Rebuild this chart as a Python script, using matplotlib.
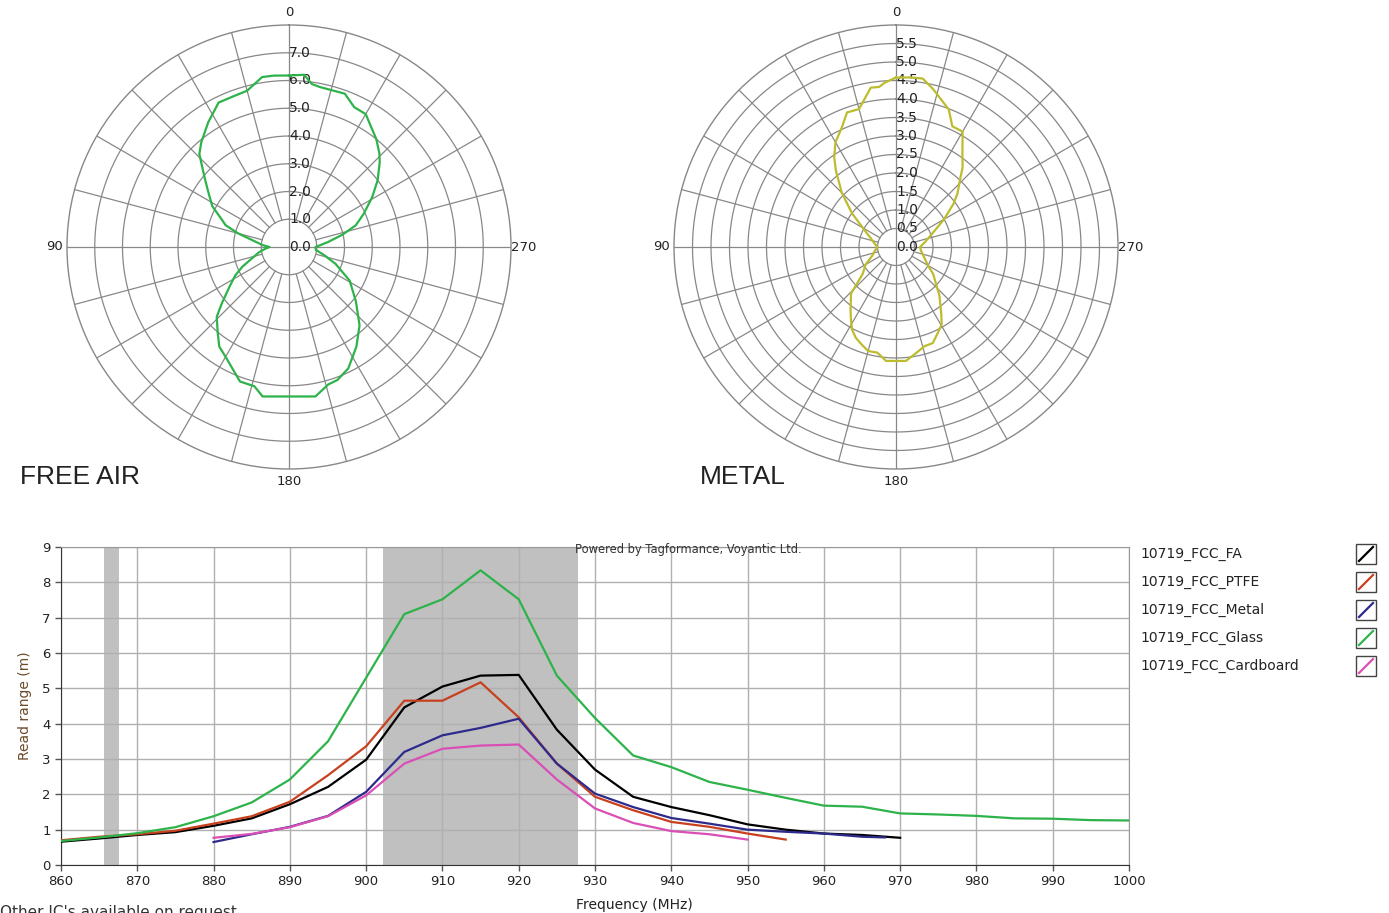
import numpy as np
import matplotlib.pyplot as plt
from matplotlib.patches import Rectangle
from matplotlib.lines import Line2D

# polar patterns (angle in degrees, read range in m)
fa_angle = [0, 5, 9, 15, 20, 26, 33, 40, 44, 51, 56, 62, 68, 71, 75, 81, 86, 90,
            94, 100, 113, 118, 124, 130, 134, 140, 145, 150, 160, 166, 170,
            190, 196, 200, 206, 214, 222, 231, 241, 250, 257, 264, 270,
            277, 283, 288, 294, 301, 307, 313, 316, 321, 330, 335, 340, 349, 352, 355]
fa_range = [6.18, 6.2, 6.2, 5.83, 5.79, 5.79, 5.35, 4.92, 4.65, 3.9, 3.5, 3.13, 2.6, 2.42, 1.9, 1.22, 0.95, 0.7,
            0.85, 1.1, 1.83, 2.2, 2.6, 3.16, 3.62, 4.0, 4.38, 4.57, 5.16, 5.17, 5.47,
            5.47, 5.15, 5.1, 4.87, 4.34, 3.8, 3.1, 2.5, 1.79, 1.3, 0.97, 0.96,
            1.4, 1.98, 2.53, 2.95, 3.5, 4.0, 4.47, 4.69, 5.0, 5.53, 5.56, 5.88, 5.87, 5.93, 6.23]

mt_angle = [0, 4, 6, 9, 15, 20, 24.5, 30, 34.5, 38.5, 45, 52.5, 61, 72, 80, 90,
            100, 110, 120, 129, 136, 144, 148, 152, 156, 160, 165, 170, 175, 180,
            185, 191, 196, 201, 206, 210.5, 214, 222, 234, 240, 252, 262, 270,
            280, 287, 292, 300, 307, 311, 317, 320, 325, 330, 335, 339, 346.7, 351, 355]
mt_range = [4.58, 4.45, 4.35, 4.36, 3.86, 3.87, 3.54, 3.27, 2.95, 2.6, 2.07, 1.5, 1.0, 0.7, 0.6, 0.5,
            0.58, 0.68, 0.95, 1.16, 1.75, 2.09, 2.3, 2.53, 2.68, 2.78, 2.91, 2.9, 3.09, 3.08,
            3.09, 2.91, 2.79, 2.78, 2.58, 2.43, 2.19, 1.75, 1.24, 1.0, 0.78, 0.68, 0.65,
            0.8, 0.95, 1.1, 1.5, 1.95, 2.2, 2.55, 2.8, 3.13, 3.6, 3.6, 3.98, 4.38, 4.61, 4.6]

# read range vs frequency
fa_f = [860, 865, 870, 875, 880, 885, 890, 895, 900, 905, 910, 915, 920, 925, 930, 935, 940, 945, 950, 955, 960, 965, 970]
fa_v = [0.66, 0.75, 0.85, 0.93, 1.11, 1.32, 1.72, 2.21, 2.98, 4.46, 5.05, 5.36, 5.38, 3.83, 2.70, 1.93, 1.64, 1.41, 1.15, 1.0, 0.89, 0.85, 0.77]

ptfe_f = [860, 865, 870, 875, 880, 885, 890, 895, 900, 905, 910, 915, 920, 925, 930, 935, 940, 945, 950, 955]
ptfe_v = [0.70, 0.80, 0.87, 0.97, 1.17, 1.38, 1.79, 2.54, 3.36, 4.65, 4.65, 5.17, 4.18, 2.87, 1.93, 1.55, 1.22, 1.08, 0.89, 0.72]

metal_f = [880, 885, 890, 895, 900, 905, 910, 915, 920, 925, 930, 935, 940, 945, 950, 955, 960, 965, 968]
metal_v = [0.65, 0.87, 1.08, 1.39, 2.07, 3.2, 3.67, 3.88, 4.14, 2.87, 2.02, 1.64, 1.33, 1.17, 1.0, 0.94, 0.89, 0.80, 0.78]

glass_f = [860, 865, 870, 875, 880, 885, 890, 895, 900, 905, 910, 915, 920, 925, 930, 935, 940, 945, 950,
           955, 960, 965, 970, 975, 980, 985, 990, 995, 1000]
glass_v = [0.68, 0.78, 0.90, 1.07, 1.38, 1.77, 2.42, 3.5, 5.3, 7.1, 7.52, 8.34, 7.52, 5.36, 4.16, 3.1, 2.77, 2.35, 2.13,
           1.9, 1.68, 1.65, 1.46, 1.43, 1.39, 1.32, 1.31, 1.27, 1.26]

card_f = [880, 885, 890, 895, 900, 905, 910, 915, 920, 925, 930, 935, 940, 945, 950]
card_v = [0.77, 0.88, 1.07, 1.38, 1.97, 2.87, 3.29, 3.38, 3.41, 2.42, 1.6, 1.19, 0.96, 0.87, 0.72]

series = [
    ('10719_FCC_FA', fa_f, fa_v, '#000000'),
    ('10719_FCC_PTFE', ptfe_f, ptfe_v, '#c8401e'),
    ('10719_FCC_Metal', metal_f, metal_v, '#2e2a8c'),
    ('10719_FCC_Glass', glass_f, glass_v, '#2db34a'),
    ('10719_FCC_Cardboard', card_f, card_v, '#d94fb5'),
]
bands = [(865.6, 867.6), (902.2, 927.8)]

W, H = 1389, 913
fig = plt.figure(figsize=(W / 100, H / 100), dpi=100)
plt.rcParams['font.family'] = 'DejaVu Sans'


def polar_chart(cx, angles, ranges, rmax, step, color, name, name_x):
    R = 222
    ax = fig.add_axes([(cx - R) / W, 1 - (247 + R) / H, 2 * R / W, 2 * R / H], projection='polar')
    ax.set_theta_zero_location('N')
    ax.set_theta_direction(1)
    ax.set_ylim(0, rmax)
    ax.set_xticks([])
    ax.set_yticks([])
    ax.grid(False)
    ax.spines['polar'].set_color('#888888')
    ax.spines['polar'].set_linewidth(1)
    gc = '#888888'
    tt = np.linspace(0, 2 * np.pi, 361)
    rings = np.arange(step, rmax, step)
    for r in rings:
        ax.plot(tt, np.full_like(tt, r), color=gc, lw=0.9, zorder=1)
    for a in range(0, 360, 15):
        th = np.deg2rad(a)
        r0 = 0 if a % 90 == 0 else step
        ax.plot([th, th], [r0, rmax], color=gc, lw=0.9, zorder=1)
    for r in np.arange(0, rmax - step / 2, step):
        ax.text(0, r, '%.1f' % r, ha='left', va='center', fontsize=10, color='#222222', zorder=2)
    for a, lab in [(0, '0'), (90, '90'), (180, '180'), (270, '270')]:
        ax.text(np.deg2rad(a), rmax * 1.057, lab, ha='center', va='center', fontsize=9.5,
                color='#222222', clip_on=False)
    th = np.deg2rad(angles + angles[:1])
    ax.plot(th, ranges + ranges[:1], color=color, lw=1.6, zorder=3)
    fig.text(name_x / W, 1 - 477 / H, name, fontsize=19, family='Liberation Sans', color='#222222', va='center')
    return ax


polar_chart(289, fa_angle, fa_range, 8, 1.0, '#2db34a', 'FREE AIR', 20)
polar_chart(896, mt_angle, mt_range, 6, 0.5, '#bcbc2e', 'METAL', 700)

# read range chart
ax = fig.add_axes([61 / W, 1 - 865 / H, (1129 - 61) / W, (865 - 547) / H])
for b0, b1 in bands:
    ax.axvspan(b0, b1, color='#c0c0c0', lw=0, zorder=0)
ax.set_xlim(860, 1000)
ax.set_ylim(0, 9)
ax.set_xticks(range(860, 1001, 10))
ax.set_yticks(range(0, 10))
ax.grid(True, color='#b0b0b0', lw=1, zorder=1)
ax.set_axisbelow(True)
for name, f, v, c in series:
    ax.plot(f, v, color=c, lw=1.6, zorder=3)
ax.tick_params(labelsize=9.5, colors='#222222', length=4, width=1, direction='out')
ax.tick_params(axis='both', color='#555555')
for s in ['top', 'right']:
    ax.spines[s].set_color('#999999')
for s in ['left', 'bottom']:
    ax.spines[s].set_color('#333333')
ax.set_ylabel('Read range (m)', fontsize=10, color='#6b4a2a', labelpad=7)
fig.text(576 / W, 1 - 905 / H, 'Frequency (MHz)', fontsize=10, color='#222222', va='center')
fig.text(575 / W, 1 - 549 / H, 'Powered by Tagformance, Voyantic Ltd.',
         fontsize=8.3, color='#333333', ha='left', va='center')

# legend at the right
for i, (name, f, v, c) in enumerate(series):
    yc = 554 + 28 * i
    fig.text(1140 / W, 1 - yc / H, name, fontsize=10, color='#222222', va='center')
    fig.add_artist(Rectangle((1356 / W, 1 - (yc + 10) / H), 20 / W, 20 / H,
                             transform=fig.transFigure, fill=False, ec='#444444', lw=1))
    fig.add_artist(Line2D([1359 / W, 1373 / W], [1 - (yc + 7) / H, 1 - (yc - 7) / H],
                          transform=fig.transFigure, color=c, lw=1.6))

fig.text(0.0, 1 - 917 / H, "Other IC's available on request", fontsize=11, color='#333333', va='baseline')

fig.savefig('out.png', dpi=100)
